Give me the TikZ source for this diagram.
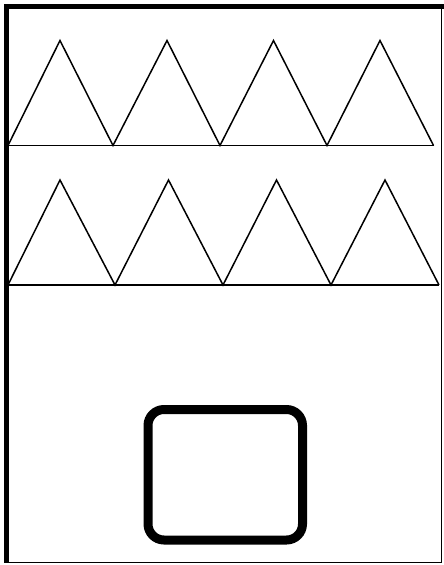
\documentclass[tikz,border=0pt]{standalone}
\begin{document}
\begin{tikzpicture}[x=1pt,y=-1pt,
  thinline/.style={line width=1.5pt,line join=miter},
  thickbar/.style={line width=5pt},
  roundbox/.style={line width=9pt,rounded corners=16pt}]
\useasboundingbox (0,0) rectangle (444,565);
\fill[white] (0,0) rectangle (444,565);
% frame
\draw[thinline] (6.5,6.5) rectangle (441.5,562.5);
\draw[thickbar] (4,6.5) -- (444,6.5);
\draw[thickbar] (6.5,4) -- (6.5,563);
% top row of triangles
\draw[thinline] (8,145.5) -- (433.5,145.5);
\draw[thinline] (8,145.5) -- (60,40.5) -- (113,145.5) -- (167,40.5) -- (220,145.5) -- (273.5,40.5) -- (327,145.5) -- (380,40.5) -- (433.5,145.5);
% second row of triangles
\draw[thinline] (8,285) -- (439,285);
\draw[thinline] (8,285) -- (60,180) -- (115,285) -- (168.5,180) -- (223,285) -- (276.5,180) -- (331,285) -- (385,180) -- (439,285);
% rounded box
\draw[roundbox] (148,409.5) rectangle (302.5,540);
\end{tikzpicture}
\end{document}
